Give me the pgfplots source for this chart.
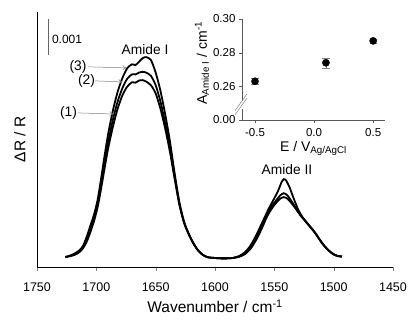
\documentclass[border=0pt]{standalone}
\usepackage{fontspec}
\setmainfont{Liberation Sans}
\usepackage{pgfplots}
\pgfplotsset{compat=1.18}
\usetikzlibrary{arrows.meta}

\begin{document}
\begin{tikzpicture}[x=1pt,y=1pt]
\begin{axis}[
  at={(37pt,53pt)}, anchor=south west,
  scale only axis, width=356pt, height=255pt,
  xmin=1450, xmax=1750, x dir=reverse,
  ymin=-0.25, ymax=6.833,
  axis lines*=left,
  axis line style={line width=0.6pt},
  xtick={1450,1500,...,1750},
  ytick=\empty,
  tick align=outside,
  major tick length=4pt,
  /pgf/number format/assume math mode=true,
  /pgf/number format/set thousands separator={},
  xticklabel style={font=\fontsize{12.5}{14}\selectfont, anchor=base, yshift=-21pt},
  xlabel={Wavenumber / cm\textsuperscript{-1}},
  ylabel={ΔR / R},
  xlabel style={font=\fontsize{15.5}{18}\selectfont, at={(axis description cs:0.5,-0.180)}, anchor=base},
  ylabel style={font=\fontsize{15.5}{18}\selectfont, at={(axis description cs:-0.048,0.5)}, anchor=center},
  clip=false,
]
% curve (3)
\addplot[black, line width=1.8pt, smooth, tension=0.4] coordinates {
(1726,0.02) (1722,0.07) (1718,0.13) (1714,0.22) (1711,0.35) (1708,0.6) (1705,0.9) (1702,1.2) (1699,1.6) (1696,2.2) (1693,2.85) (1690,3.45) (1686,4.1) (1682,4.62) (1678,5.0) (1674,5.27) (1670,5.38) (1667,5.36) (1664,5.45) (1661,5.55) (1658,5.58) (1654,5.5) (1650,5.15) (1646,4.65) (1642,4.0) (1638,3.25) (1634,2.35) (1630,1.55) (1626,1.0) (1622,0.66) (1618,0.4) (1614,0.2) (1610,0.08) (1606,0.02) (1600,0.0) (1595,-0.01) (1590,-0.01) (1585,0.0) (1580,0.05) (1575,0.15) (1570,0.35) (1565,0.65) (1560,1.0) (1555,1.35) (1551,1.6) (1547,1.85) (1544,2.1) (1542,2.19) (1540,2.15) (1537,1.95) (1534,1.68) (1530,1.35) (1526,1.12) (1522,0.95) (1518,0.8) (1514,0.62) (1510,0.42) (1506,0.27) (1502,0.15) (1498,0.07) (1495,0.05) (1493,0.04)};
% curve (2)
\addplot[black, line width=1.8pt, smooth, tension=0.4] coordinates {
(1726,0.03) (1722,0.06) (1718,0.11) (1714,0.2) (1711,0.32) (1708,0.52) (1705,0.8) (1702,1.1) (1699,1.5) (1696,2.05) (1693,2.65) (1690,3.22) (1686,3.85) (1682,4.35) (1678,4.72) (1674,4.98) (1670,5.1) (1667,5.1) (1664,5.15) (1661,5.17) (1658,5.15) (1654,5.06) (1650,4.8) (1646,4.35) (1642,3.75) (1638,3.05) (1634,2.25) (1630,1.5) (1626,0.98) (1622,0.66) (1618,0.4) (1614,0.2) (1610,0.08) (1606,0.02) (1600,0.0) (1595,-0.01) (1590,-0.01) (1585,0.0) (1580,0.04) (1575,0.12) (1570,0.3) (1565,0.58) (1560,0.92) (1556,1.22) (1552,1.45) (1548,1.62) (1545,1.74) (1542,1.8) (1539,1.74) (1536,1.6) (1532,1.4) (1528,1.2) (1524,1.04) (1520,0.88) (1516,0.72) (1512,0.52) (1508,0.34) (1504,0.2) (1500,0.1) (1496,0.05) (1493,0.04)};
% curve (1)
\addplot[black, line width=1.8pt, smooth, tension=0.4] coordinates {
(1726,0.03) (1722,0.05) (1718,0.09) (1714,0.17) (1711,0.28) (1708,0.46) (1705,0.72) (1702,1.02) (1699,1.4) (1696,1.92) (1693,2.5) (1690,3.05) (1686,3.65) (1682,4.15) (1678,4.52) (1674,4.76) (1670,4.88) (1667,4.87) (1664,4.93) (1661,4.94) (1658,4.9) (1654,4.8) (1650,4.57) (1646,4.15) (1642,3.6) (1638,2.95) (1634,2.2) (1630,1.48) (1626,0.97) (1622,0.65) (1618,0.39) (1614,0.2) (1610,0.08) (1606,0.02) (1600,0.0) (1595,-0.01) (1590,-0.01) (1585,0.0) (1580,0.03) (1575,0.1) (1570,0.26) (1565,0.52) (1560,0.86) (1556,1.16) (1552,1.38) (1548,1.55) (1545,1.65) (1542,1.69) (1539,1.65) (1536,1.54) (1532,1.37) (1528,1.18) (1524,1.03) (1520,0.87) (1516,0.71) (1512,0.52) (1508,0.34) (1504,0.2) (1500,0.1) (1496,0.05) (1493,0.04)};
% scale bar
\draw[line width=0.6pt, gray!80!black] (axis cs:1740.7,5.64) -- (axis cs:1740.7,6.64);
\node[font=\fontsize{12}{14}\selectfont] at (axis cs:1724.7,6.06) {0.001};
% annotations
\node[font=\fontsize{13.8}{16}\selectfont] at (axis cs:1659,5.80) {Amide I};
\node[font=\fontsize{13.8}{16}\selectfont] at (axis cs:1539.3,2.46) {Amide II};
\node[font=\fontsize{13.8}{16}\selectfont] at (axis cs:1715.5,5.31) {(3)};
\node[font=\fontsize{13.8}{16}\selectfont] at (axis cs:1708.3,4.92) {(2)};
\node[font=\fontsize{13.8}{16}\selectfont] at (axis cs:1723.5,4.03) {(1)};
\draw[gray, line width=0.5pt, -{To[length=4pt,width=5pt]}] (axis cs:1707,5.31) -- (axis cs:1674.5,5.28);
\draw[gray, line width=0.5pt, -{To[length=4pt,width=5pt]}] (axis cs:1701,4.92) -- (axis cs:1678,4.89);
\draw[gray, line width=0.5pt, -{To[length=4pt,width=5pt]}] (axis cs:1715.5,4.03) -- (axis cs:1685.5,4.0);
\end{axis}

\begin{axis}[
  at={(242pt,200pt)}, anchor=south west,
  scale only axis, width=143pt, height=101pt,
  xmin=-0.61, xmax=0.60, ymin=0.24, ymax=0.30,
  axis lines*=left,
  axis line style={line width=0.5pt, gray!70!black},
  tick style={gray!70!black},
  tick align=outside, major tick length=3pt,
  xtick={-0.5,0,0.5}, xticklabels={-0.5,0.0,0.5},
  ytick={0.24,0.26,0.28,0.30}, yticklabels={0.00,0.26,0.28,0.30},
  ticklabel style={font=\fontsize{11.5}{13}\selectfont},
  xticklabel style={anchor=base, yshift=-14pt},
  xlabel={E / V\textsubscript{Ag/AgCl}},
  ylabel={A\textsubscript{Amide I} / cm\textsuperscript{-1}},
  xlabel style={font=\fontsize{14}{16}\selectfont, at={(axis description cs:0.5,-0.314)}, anchor=base},
  ylabel style={font=\fontsize{14}{16}\selectfont, at={(axis description cs:-0.28,0.564)}, anchor=center},
  clip=false,
]
\addplot[black, only marks, mark=*, mark size=3.6pt, mark options={fill=black},
  error bars/.cd, y dir=both, y explicit, error bar style={gray, line width=0.6pt}]
  coordinates {(-0.5,0.263) +- (0,0.002) (0.1,0.274) +- (0,0.003) (0.5,0.287) +- (0,0.0012)};
\draw[white, line width=2pt] (axis cs:-0.61,0.2465) -- (axis cs:-0.61,0.2515);
\draw[gray, line width=0.5pt] (axis cs:-0.669,0.243) -- (axis cs:-0.568,0.253);
\draw[gray, line width=0.5pt] (axis cs:-0.669,0.2455) -- (axis cs:-0.568,0.2555);
\end{axis}
\pgfresetboundingbox
\path[use as bounding box] (0,0) rectangle (412,320);
\end{tikzpicture}
\end{document}
